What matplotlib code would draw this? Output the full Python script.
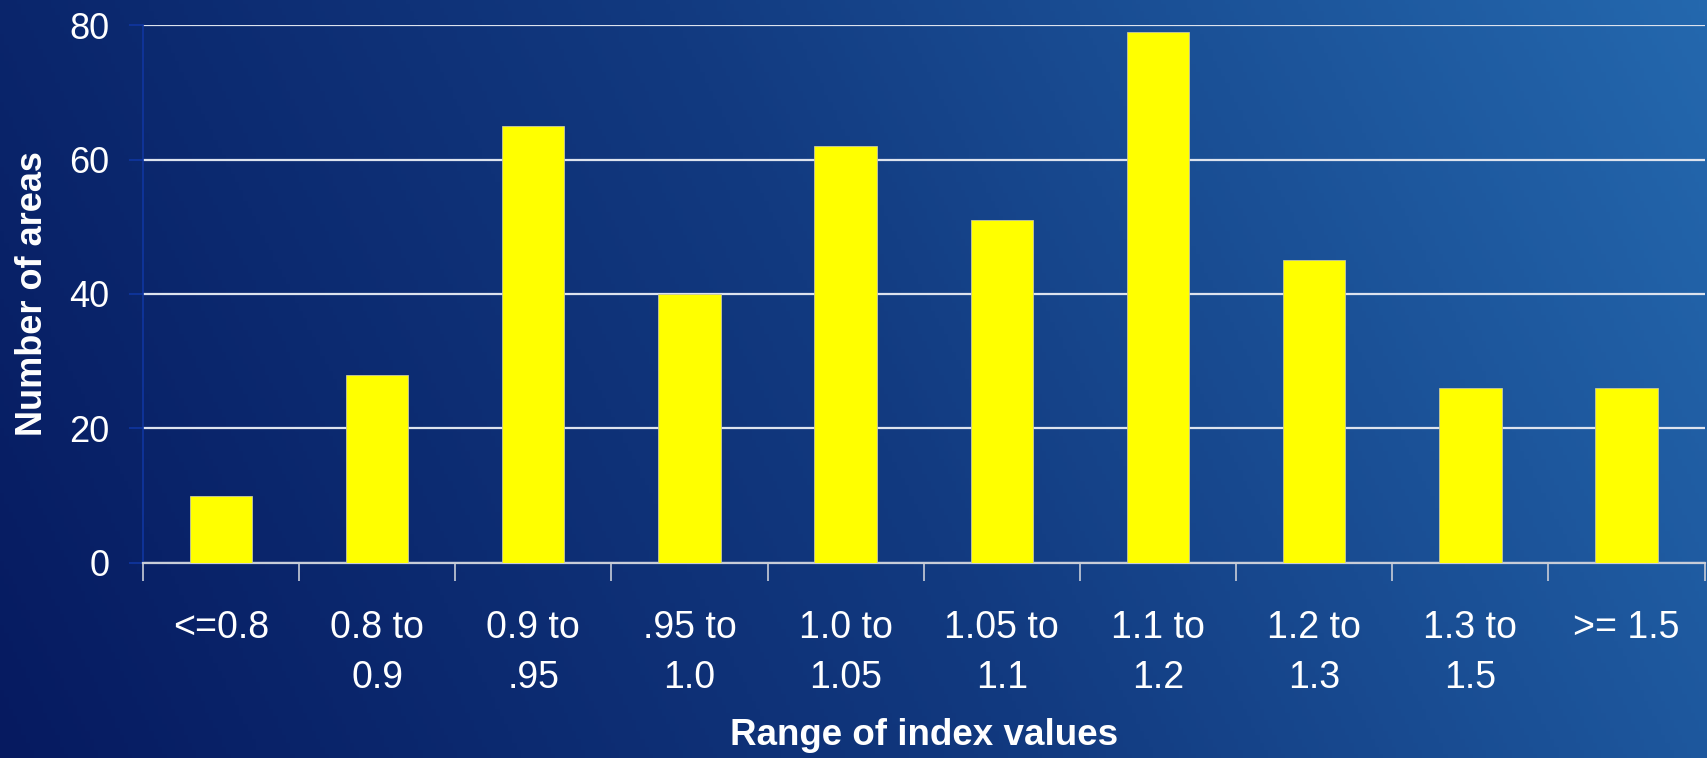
import numpy as np
import matplotlib
matplotlib.use("Agg")
import matplotlib.pyplot as plt
from matplotlib.colors import LinearSegmentedColormap

# ------------------------------- DATA ------------------------------- #

categories = [
    "<=0.8", "0.8 to\n0.9", "0.9 to\n.95", ".95 to\n1.0", "1.0 to\n1.05",
    "1.05 to\n1.1", "1.1 to\n1.2", "1.2 to\n1.3", "1.3 to\n1.5", ">= 1.5",
]
counts = [10, 28, 65, 40, 62, 51, 79, 45, 26, 26]
y_ticks = [0, 20, 40, 60, 80]

# -------------------------------------------------------------------- #

plt.rcParams["font.family"] = ["Liberation Sans", "DejaVu Sans"]

fig = plt.figure(figsize=(17.08, 7.58), dpi=100)

# diagonal blue gradient background
bg = fig.add_axes([0, 0, 1, 1], zorder=0)
gx, gy = np.meshgrid(np.linspace(0, 1, 400), np.linspace(0, 1, 200))
grad = 0.82 * gx + 0.18 * gy
cmap = LinearSegmentedColormap.from_list("bg", ["#061a60", "#123a80", "#2468ae"])
bg.imshow(grad, cmap=cmap, origin="lower", aspect="auto", extent=[0, 1, 0, 1])
bg.axis("off")

ax = fig.add_axes([0.0836, 0.2573, 0.9144, 0.7097], zorder=1)
ax.patch.set_alpha(0)

x = np.arange(len(categories))
ax.bar(x, counts, width=0.4, color="#ffff00", edgecolor="#c8c8a0",
       linewidth=0.6, zorder=3)

ax.set_xlim(-0.5, len(categories) - 0.5)
ax.set_ylim(0, 80)
ax.set_yticks(y_ticks)
ax.yaxis.grid(True, color="#dde3ee", linewidth=1.6, zorder=1)

# x ticks sit between categories; labels go at category centres
ax.set_xticks(np.arange(-0.5, len(categories), 1.0))
ax.set_xticklabels([])
ax.set_xticks(x, minor=True)
ax.set_xticklabels(categories, minor=True, color="white", fontsize=27,
                   linespacing=1.5)
ax.tick_params(axis="x", which="major", length=13, width=1.2, color="#c8cdd8",
               direction="out")
ax.tick_params(axis="x", which="minor", length=0, pad=34)
ax.tick_params(axis="y", length=10, width=1.2, color="#1036a0",
               labelcolor="white", labelsize=26, pad=14)

for side in ["top", "right"]:
    ax.spines[side].set_visible(False)
ax.spines["bottom"].set_color("#c8cdd8")
ax.spines["bottom"].set_linewidth(1.6)
ax.spines["left"].set_color("#1036a0")
ax.spines["left"].set_linewidth(1.2)

ax.set_ylabel("Number of areas", color="white", fontsize=26,
              fontweight="bold", labelpad=14)
ax.set_xlabel("Range of index values", color="white", fontsize=26.5,
              fontweight="bold", labelpad=16)

fig.savefig("out.png", dpi=100)
